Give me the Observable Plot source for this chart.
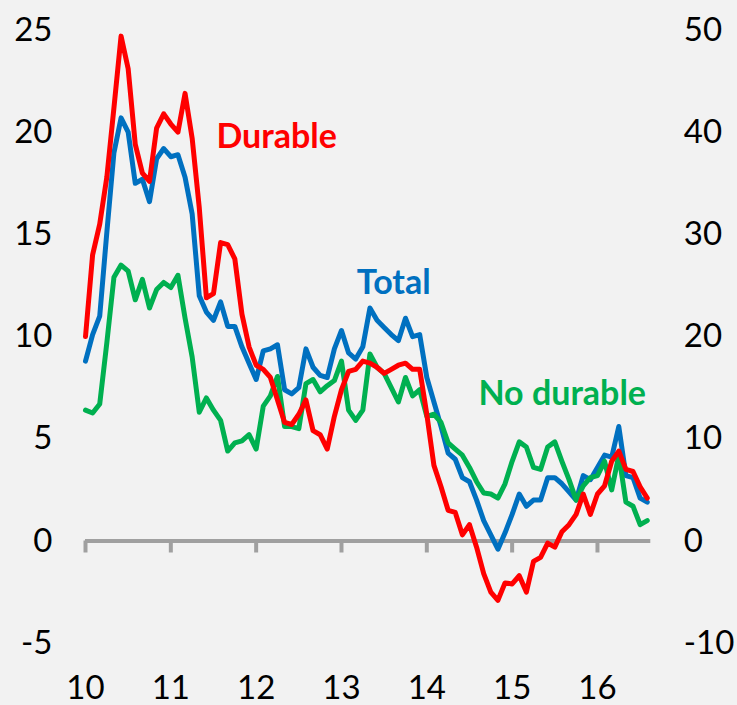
<!DOCTYPE html>
<html>
<head>
<meta charset="utf-8">
<style>
html, body { margin: 0; padding: 0; background: #f2f2f2; }
#chart svg { display: block; }
</style>
<script src="https://cdn.jsdelivr.net/npm/d3@7"></script>
<script src="https://cdn.jsdelivr.net/npm/@observablehq/plot@0.6"></script>
</head>
<body>
<div id="chart"></div>
<script>
// Monthly series, Jan 2010 – Aug 2016
const startYear = 2010;

// Total (left axis)
const total = [
  8.8, 10.1, 11.0, 15.1, 19.0, 20.7, 20.0, 17.5, 17.7, 16.6,
  18.7, 19.2, 18.8, 18.9, 17.8, 16.0, 12.0, 11.2, 10.8, 11.7,
  10.5, 10.5, 9.5, 8.7, 7.9, 9.3, 9.4, 9.6, 7.4, 7.2,
  7.5, 9.4, 8.5, 8.1, 8.0, 9.4, 10.3, 9.2, 8.9, 9.5,
  11.4, 10.8, 10.45, 10.1, 9.8, 10.9, 10.0, 10.1, 8.0, 6.8,
  5.6, 4.3, 4.0, 3.1, 2.9, 2.0, 1.0, 0.3, -0.4, 0.4,
  1.3, 2.3, 1.7, 2.0, 2.0, 3.1, 3.1, 2.8, 2.4, 2.0,
  3.2, 3.0, 3.6, 4.2, 4.1, 5.6, 3.2, 3.1, 2.1, 1.9
];

// No durable (left axis)
const noDurable = [
  6.4, 6.26, 6.7, 9.7, 12.9, 13.5, 13.2, 11.8, 12.8, 11.4,
  12.3, 12.65, 12.4, 13.0, 10.9, 9.0, 6.3, 7.0, 6.4, 5.9,
  4.4, 4.8, 4.9, 5.2, 4.5, 6.6, 7.1, 8.05, 5.6, 5.6,
  5.5, 7.7, 7.9, 7.3, 7.6, 7.85, 8.8, 6.4, 5.9, 6.4,
  9.15, 8.5, 8.2, 7.5, 6.8, 8.0, 7.1, 7.4, 6.1, 6.2,
  5.8, 4.8, 4.5, 4.2, 3.6, 2.9, 2.35, 2.3, 2.1, 2.8,
  3.9, 4.85, 4.6, 3.6, 3.5, 4.6, 4.85, 3.9, 3.0, 2.0,
  2.7, 3.1, 3.2, 3.9, 2.5, 4.2, 1.9, 1.7, 0.8, 1.0
];

// Durable (right axis)
const durable = [
  20.0, 28.0, 31.0, 35.6, 42.4, 49.4, 46.2, 38.8, 36.0, 35.2,
  40.4, 41.8, 40.8, 40.0, 43.8, 39.4, 32.6, 23.8, 24.2, 29.2,
  29.0, 27.6, 22.2, 19.0, 17.2, 16.8, 16.0, 13.8, 11.6, 11.4,
  12.4, 13.8, 10.8, 10.4, 9.0, 12.2, 14.8, 16.6, 16.8, 17.6,
  17.4, 17.0, 16.4, 16.8, 17.2, 17.4, 16.8, 16.8, 12.4, 7.4,
  5.3, 3.0, 2.8, 0.6, 1.6, -0.6, -3.2, -5.0, -5.8, -4.1,
  -4.2, -3.4, -5.0, -2.0, -1.6, -0.2, -0.6, 0.9, 1.6, 2.6,
  4.6, 2.6, 4.6, 5.4, 7.8, 8.8, 7.0, 6.8, 5.3, 4.2
];

const leftTicks = [-5, 0, 5, 10, 15, 20, 25];
const rightTicks = [-10, 0, 10, 20, 30, 40, 50];
const yearTicks = [2010, 2011, 2012, 2013, 2014, 2015, 2016];
const yearLabels = ["10", "11", "12", "13", "14", "15", "16"];
const seriesNames = ["Total", "No durable", "Durable"];

// right axis maps onto the left one: right = 2 × left
const rightFactor = 2;

const rows = total.map((v, i) => ({
  t: startYear + i / 12,
  total: v,
  noDurable: noDurable[i],
  durableLeft: durable[i] / rightFactor
}));

const FONT = "Lato, 'Open Sans', sans-serif";
const grey = "#a0a0a0";
const cBlue = "#0070C0", cGreen = "#00B050", cRed = "#FF0000";

const chart = Plot.plot({
  width: 737,
  height: 705,
  marginLeft: 85,
  marginRight: 86.7,
  marginTop: 29.5,
  marginBottom: 62.3,
  style: { background: "#f2f2f2", fontFamily: FONT, fontSize: "33px", color: "#000" },
  x: { domain: [startYear, startYear + 79.5 / 12] },
  y: { domain: [-5, 25] },
  marks: [
    Plot.axisY(leftTicks, {
      anchor: "left", tickSize: 0, tickPadding: 33, label: null,
      tickFormat: d => String(d), fontSize: 33, fontFamily: FONT, fill: "#000"
    }),
    Plot.axisY(leftTicks, {
      anchor: "right", tickSize: 0, tickPadding: 33, label: null,
      tickFormat: d => String(rightTicks[leftTicks.indexOf(d)]), fontSize: 33, fontFamily: FONT, fill: "#000"
    }),
    Plot.axisX(yearTicks, {
      anchor: "bottom", tickSize: 0, tickPadding: 32.5, label: null,
      tickFormat: d => yearLabels[yearTicks.indexOf(d)], fontSize: 33, fontFamily: FONT, fill: "#000"
    }),
    Plot.ruleY([0], { stroke: grey, strokeWidth: 4 }),
    Plot.ruleX(yearTicks, { x: d => d, y1: 0, y2: 0, insetBottom: -12, stroke: grey, strokeWidth: 4 }),
    Plot.line(rows, { x: "t", y: "total", stroke: cBlue, strokeWidth: 5, strokeLinejoin: "round", strokeLinecap: "round" }),
    Plot.line(rows, { x: "t", y: "noDurable", stroke: cGreen, strokeWidth: 5, strokeLinejoin: "round", strokeLinecap: "round" }),
    Plot.line(rows, { x: "t", y: "durableLeft", stroke: cRed, strokeWidth: 5, strokeLinejoin: "round", strokeLinecap: "round" }),
    Plot.text([seriesNames[2]], { x: 2012.24, y: 19.77, text: d => d, fill: cRed, fontSize: 34, fontWeight: "bold", fontFamily: FONT, textAnchor: "middle" }),
    Plot.text([seriesNames[0]], { x: 2013.613, y: 12.61, text: d => d, fill: cBlue, fontSize: 34, fontWeight: "bold", fontFamily: FONT, textAnchor: "middle" }),
    Plot.text([seriesNames[1]], { x: 2015.587, y: 7.17, text: d => d, fill: cGreen, fontSize: 34, fontWeight: "bold", fontFamily: FONT, textAnchor: "middle" })
  ]
});

document.getElementById("chart").appendChild(chart);
</script>
</body>
</html>
